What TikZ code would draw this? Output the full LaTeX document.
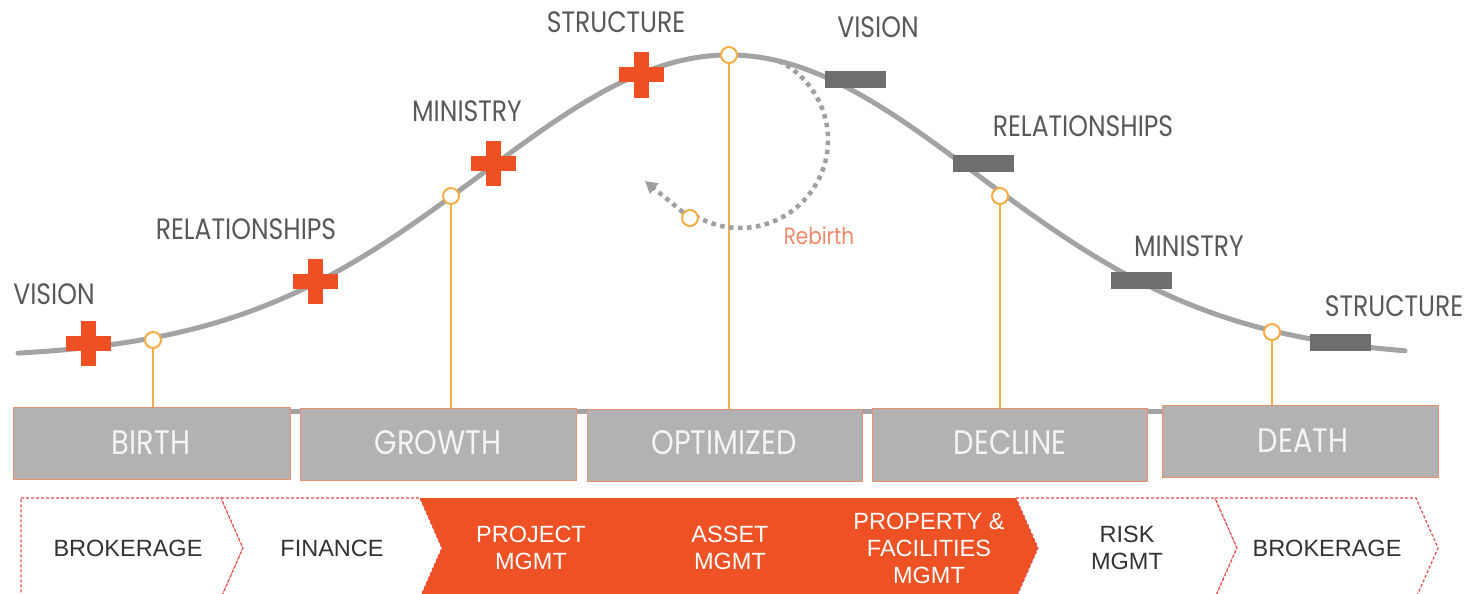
\documentclass[tikz,border=0pt]{standalone}
\usepackage{fontspec}
\setmainfont{Liberation Sans}
\newfontfamily\geo[FakeStretch=0.85]{Poppins}
\usetikzlibrary{arrows.meta}
\definecolor{curvegray}{HTML}{A3A3A3}
\definecolor{orng}{HTML}{EE4F23}
\definecolor{chevorng}{HTML}{EE5124}
\definecolor{darkrect}{HTML}{6D6E70}
\definecolor{yel}{HTML}{F5AE45}
\definecolor{labelgray}{HTML}{58595B}
\definecolor{boxfill}{HTML}{B2B2B2}
\definecolor{boxedge}{HTML}{E99073}
\definecolor{boxtext}{HTML}{F4F4F4}
\definecolor{rebirth}{HTML}{F08A6A}
\definecolor{dashred}{HTML}{E84C4C}
\definecolor{dotgray}{HTML}{A0A0A0}
\definecolor{chevtext}{HTML}{333333}
\tikzset{
  curve/.style={draw=curvegray, line width=5pt, line cap=round},
  toplabel/.style={text=labelgray, font=\geo\fontsize{29.5}{34}\selectfont, inner sep=0pt},
  minusbar/.style={fill=darkrect, minimum width=61pt, minimum height=17pt, inner sep=0pt},
  ring/.style={circle, draw=yel, fill=white, line width=2pt, minimum size=16pt, inner sep=0pt},
  drop/.style={draw=yel, line width=2pt},
  stagebox/.style={fill=boxfill, draw=boxedge, line width=1pt, inner sep=0pt},
  stagetext/.style={text=boxtext, font=\geo\fontsize{34}{38}\selectfont, inner sep=0pt},
  chevron/.style={draw=dashred, line width=1.2pt, dash pattern=on 3pt off 2pt, fill=white},
  chevlabel/.style={text=chevtext, font=\fontsize{23.5}{27}\selectfont, align=center, inner sep=0pt},
  chevlabelw/.style={text=white, font=\fontsize{23.5}{27}\selectfont, align=center, inner sep=0pt},
  dots/.style={draw=dotgray, line width=4.5pt, dash pattern=on 4.5pt off 4.5pt},
  crossmark/.pic={
    \fill[orng] (-22.5,-7.5) rectangle (22.5,7.5);
    \fill[orng] (-7.5,-22.5) rectangle (7.5,22.5);
  }
}
\begin{document}
\begin{tikzpicture}[x=1pt,y=-1pt]
\useasboundingbox (0,0) rectangle (1465,594);
\fill[white] (0,0) rectangle (1465,594);

% baseline behind boxes
\draw[draw=curvegray, line width=5pt] (290,411) -- (1162,411);

% stage boxes
\node[stagebox, minimum width=277pt, minimum height=72pt] (birth) at (151.5,443.5) {};
\node[stagebox, minimum width=276pt, minimum height=72pt] (growth) at (438,444) {};
\node[stagebox, minimum width=275pt, minimum height=72pt] (optim) at (724.5,445) {};
\node[stagebox, minimum width=275pt, minimum height=73pt] (decline) at (1009.5,444.5) {};
\node[stagebox, minimum width=276pt, minimum height=72pt] (death) at (1300,441) {};
\node[stagetext] (tbirth) at (151,443) {BIRTH};
\node[stagetext] (tgrowth) at (438,443) {GROWTH};
\node[stagetext] (toptim) at (724,443) {OPTIMIZED};
\node[stagetext] (tdecline) at (1010,443) {DECLINE};
\node[stagetext] (tdeath) at (1303,441) {DEATH};

% main curve
\draw[curve] plot[domain=18:1405, samples=160, smooth]
  (\x, {358-303*exp(-((\x-729)/350)*((\x-729)/350))});

% rings
\node[ring] (r1) at (153,340) {};
\node[ring] (r2) at (451,196) {};
\node[ring] (r3) at (729,55) {};
\node[ring] (r4) at (1000,196) {};
\node[ring] (r5) at (1272,332) {};

% drop lines
\draw[drop] (r1.south) -- (r1.south |- birth.north);
\draw[drop] (r2.south) -- (r2.south |- growth.north);
\draw[drop] (r3.south) -- (r3.south |- optim.north);
\draw[drop] (r4.south) -- (r4.south |- decline.north);
\draw[drop] (r5.south) -- (r5.south |- death.north);

% crosses
\pic at (88,343) {crossmark};
\pic at (315,281) {crossmark};
\pic at (493,163) {crossmark};
\pic at (641,75) {crossmark};

% minus bars
\node[minusbar] (m1) at (855,80) {};
\node[minusbar] (m2) at (983,163.5) {};
\node[minusbar] (m3) at (1141,280.5) {};
\node[minusbar] (m4) at (1340,342.5) {};

% labels
\node[toplabel] (l1) at (54,294) {VISION};
\node[toplabel] (l2) at (246,229) {RELATIONSHIPS};
\node[toplabel] (l3) at (467,111) {MINISTRY};
\node[toplabel] (l4) at (616,22) {STRUCTURE};
\node[toplabel] (l5) at (878,27) {VISION};
\node[toplabel] (l6) at (1083,126) {RELATIONSHIPS};
\node[toplabel] (l7) at (1189,246) {MINISTRY};
\node[toplabel] (l8) at (1394,306) {STRUCTURE};

% rebirth loop
\draw[dots] plot[domain=-64:124, samples=60, smooth] ({740+88*cos(\x)},{140+88*sin(\x)});
\node[ring] (rb) at (690,218) {};
\coordinate (rbtip) at (645,181);
\draw[dots, -{Triangle[width=13pt,length=12pt]}] (rb) -- (rbtip);
\node[text=rebirth, font=\geo\fontsize{23.5}{27}\selectfont, inner sep=0pt] (rebirthlbl) at (819,236) {Rebirth};

% chevrons
\path[chevron] (21,498) -- (221,498) -- (243,548) -- (221,598) -- (21,598) -- cycle;
\path[chevron] (221,498) -- (420,498) -- (442,548) -- (420,598) -- (221,598) -- (243,548) -- cycle;
\fill[chevorng] (420,498) -- (1016,498) -- (1038,548) -- (1016,598) -- (420,598) -- (442,548) -- cycle;
\path[chevron] (1016,498) -- (1215,498) -- (1237,548) -- (1215,598) -- (1016,598) -- (1038,548) -- cycle;
\path[chevron] (1215,498) -- (1416,498) -- (1438,548) -- (1416,598) -- (1215,598) -- (1237,548) -- cycle;

\node[chevlabel] (c1) at (128,548) {BROKERAGE};
\node[chevlabel] (c2) at (332,548) {FINANCE};
\node[chevlabelw] (c3) at (531,548) {PROJECT\\MGMT};
\node[chevlabelw] (c4) at (730,548) {ASSET\\MGMT};
\node[chevlabelw] (c5) at (929,548) {PROPERTY \&\\FACILITIES\\MGMT};
\node[chevlabel] (c6) at (1127,548) {RISK\\MGMT};
\node[chevlabel] (c7) at (1327,548) {BROKERAGE};
\end{tikzpicture}
\end{document}
